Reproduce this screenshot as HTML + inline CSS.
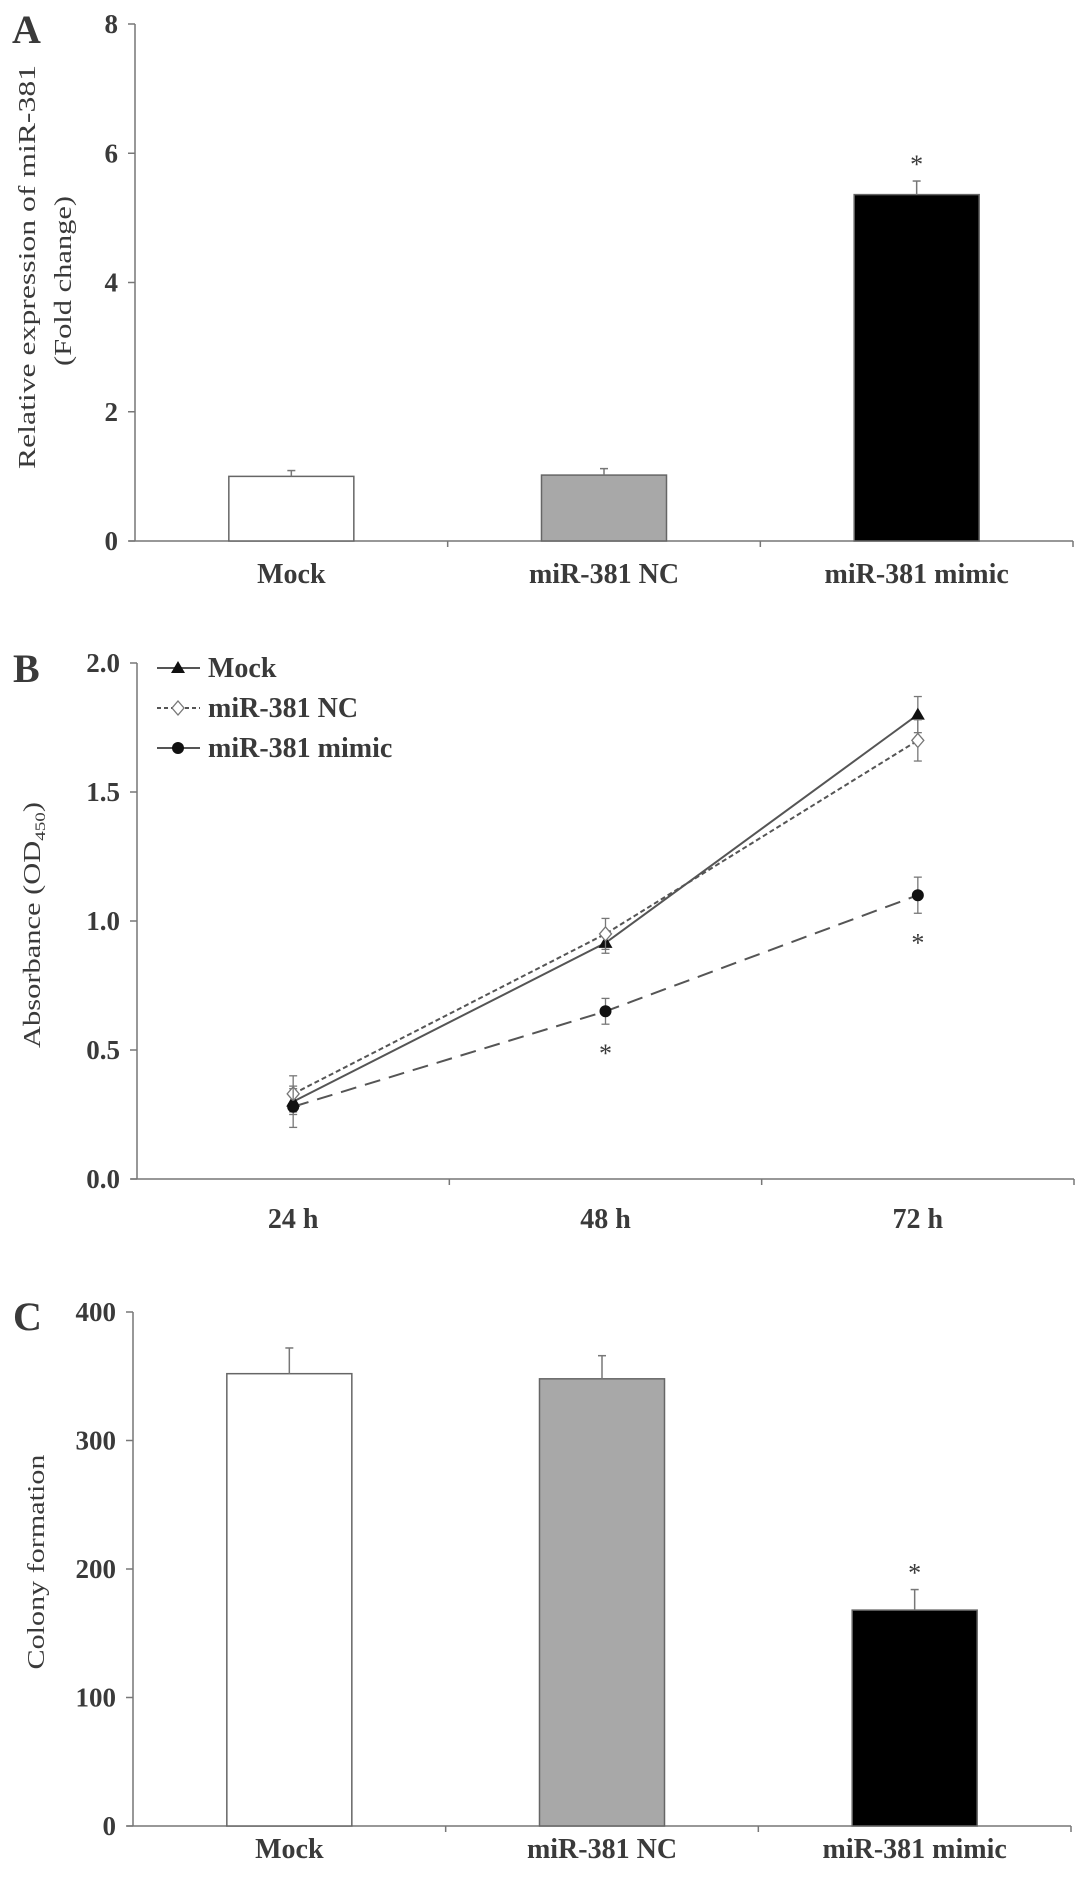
<!DOCTYPE html>
<html><head><meta charset="utf-8"><style>
body{margin:0;background:#fff}
svg text{font-family:"Liberation Serif",serif;fill:#3a3a3a}
</style></head><body>
<svg id="fig" width="1087" height="1872" viewBox="0 0 1087 1872" xmlns="http://www.w3.org/2000/svg">
<g id="pa"></g>
<g id="pb"></g>
<g id="pc"></g>
</svg>
<script>
// Panel A data
const catsA = ["Mock","miR-381 NC","miR-381 mimic"];
const valsA = [1.0, 1.02, 5.36];
const errA = [0.09, 0.1, 0.21];
const sigA = [false,false,true];
const ticksA = [0,2,4,6,8];
// Panel B data
const timesB = ["24 h","48 h","72 h"];
const mockB = [0.30, 0.915, 1.80];
const mockErrB = [0.05, 0.04, 0.07];
const ncB = [0.33, 0.95, 1.70];
const ncErrB = [0.07, 0.06, 0.08];
const mimicB = [0.28, 0.65, 1.10];
const mimicErrB = [0.08, 0.05, 0.07];
const sigB = [false,true,true];
const ticksB = ["0.0","0.5","1.0","1.5","2.0"];
// Panel C data
const catsC = ["Mock","miR-381 NC","miR-381 mimic"];
const valsC = [352, 348, 168];
const errC = [20, 18, 16];
const sigC = [false,false,true];
const ticksC = [0,100,200,300,400];

const NS="http://www.w3.org/2000/svg";
function el(parent,tag,attrs,text){const e=document.createElementNS(NS,tag);for(const k in attrs)e.setAttribute(k,attrs[k]);if(text!==undefined)e.textContent=text;parent.appendChild(e);return e;}

const fills=["#ffffff","#a8a8a8","#000000"];

function axes(g,x0,x1,y0,yTop,ticks,tickVals,ymax){
  const sy=v=>y0-(v/ymax)*(y0-yTop);
  const ya=el(g,'line',{x1:x0,y1:yTop,x2:x0,y2:y0,stroke:'#777','stroke-width':1.5});
  
  
  const xa=el(g,'line',{x1:x0-6,y1:y0,x2:x1,y2:y0,stroke:'#777','stroke-width':1.5});
  
  
  ticks.forEach((t,i)=>{
    const y=sy(tickVals[i]);
    el(g,'line',{x1:x0-7,y1:y,x2:x0,y2:y,stroke:'#777','stroke-width':1.5});
    const tx=el(g,'text',{x:x0-17,y:y+9,'text-anchor':'end','font-size':27,'font-weight':'bold'},t);
    
    
  });
  const w=(x1-x0)/3;
  for(let i=1;i<=3;i++){const x=x0+w*i;el(g,'line',{x1:x,y1:y0,x2:x,y2:y0+6,stroke:'#777','stroke-width':1.5});}
  return sy;
}

function barPanel(g,cats,vals,errs,sig,ticks,ymax,x0,x1,y0,yTop,labelY){
  const sy=axes(g,x0,x1,y0,yTop,ticks.map(String),ticks,ymax);
  const w=(x1-x0)/3;
  cats.forEach((c,i)=>{
    const cx=x0+w*(i+0.5);
    const bw=125, top=sy(vals[i]);
    const b=el(g,'rect',{x:cx-bw/2,y:top,width:bw,height:y0-top,fill:fills[i],stroke:'#666','stroke-width':1.5});
    
    
    const et=sy(vals[i]+errs[i]);
    el(g,'line',{x1:cx,y1:top,x2:cx,y2:et,stroke:'#777','stroke-width':1.5});
    el(g,'line',{x1:cx-4,y1:et,x2:cx+4,y2:et,stroke:'#777','stroke-width':1.5});
    if(sig[i]){const s=el(g,'text',{x:cx,y:et-8,'text-anchor':'middle','font-size':26},'*');
      
      }
    const t=el(g,'text',{x:cx,y:labelY,'text-anchor':'middle','font-size':28,'font-weight':'bold'},c);
    
    
  });
}

// Panel A
const ga=document.getElementById('pa');
el(ga,'text',{x:12,y:43,'font-size':40,'font-weight':'bold',fill:'#222'},'A');
barPanel(ga,catsA,valsA,errA,sigA,ticksA,8,135,1073,541,24,583);
let t1=el(ga,'text',{transform:'translate(35,267) rotate(-90)','text-anchor':'middle','font-size':24,textLength:404,lengthAdjust:'spacingAndGlyphs'},'Relative expression of miR-381');

let t2=el(ga,'text',{transform:'translate(71,281) rotate(-90)','text-anchor':'middle','font-size':24,textLength:170,lengthAdjust:'spacingAndGlyphs'},'(Fold change)');


// Panel B
const gb=document.getElementById('pb');
el(gb,'text',{x:13,y:682,'font-size':40,'font-weight':'bold',fill:'#222'},'B');
const syB=axes(gb,137,1074,1179,663,ticksB,ticksB.map(Number),2.0);
const wB=(1074-137)/3;
const sxB=i=>137+wB*(i+0.5);
let tb=el(gb,'text',{transform:'translate(40,925) rotate(-90)','text-anchor':'middle','font-size':24,textLength:246,lengthAdjust:'spacingAndGlyphs'});

el(tb,'tspan',{},'Absorbance (OD');el(tb,'tspan',{'font-size':15,dy:5},'450');el(tb,'tspan',{dy:-5},')');
timesB.forEach((t,i)=>{const e=el(gb,'text',{x:sxB(i),y:1228,'text-anchor':'middle','font-size':28,'font-weight':'bold'},t);
  });
const series=[
 {name:'Mock',vals:mockB,err:mockErrB,dash:'',marker:'tri'},
 {name:'miR-381 NC',vals:ncB,err:ncErrB,dash:'5,3',marker:'dia'},
 {name:'miR-381 mimic',vals:mimicB,err:mimicErrB,dash:'16,9',marker:'dot'}];
function marker(g,type,x,y){
  if(type==='tri') return el(g,'polygon',{points:`${x},${y-7} ${x-7},${y+5} ${x+7},${y+5}`,fill:'#111'});
  if(type==='dia') return el(g,'polygon',{points:`${x},${y-7} ${x+6},${y} ${x},${y+7} ${x-6},${y}`,fill:'#fff',stroke:'#777','stroke-width':1.3});
  return el(g,'circle',{cx:x,cy:y,r:6,fill:'#111'});
}
series.forEach((s,si)=>{
  const pts=s.vals.map((v,i)=>sxB(i)+','+syB(v)).join(' ');
  const pl=el(gb,'polyline',{points:pts,fill:'none',stroke:'#555','stroke-width':2,'stroke-dasharray':s.dash});
  
  
  s.vals.forEach((v,i)=>{
    const x=sxB(i),a=syB(v+s.err[i]),b=syB(v-s.err[i]);
    el(gb,'line',{x1:x,y1:a,x2:x,y2:b,stroke:'#777','stroke-width':1.3});
    el(gb,'line',{x1:x-4,y1:a,x2:x+4,y2:a,stroke:'#777','stroke-width':1.3});
    el(gb,'line',{x1:x-4,y1:b,x2:x+4,y2:b,stroke:'#777','stroke-width':1.3});
  });
  s.vals.forEach((v,i)=>{const m=marker(gb,s.marker,sxB(i),syB(v));
    
    });
  const ly=668+40*si;
  el(gb,'line',{x1:157,y1:ly,x2:200,y2:ly,stroke:'#555','stroke-width':2,'stroke-dasharray':si===1?'4,3':''});
  marker(gb,s.marker,178,ly);
  const lt=el(gb,'text',{x:208,y:ly+9,'font-size':28,'font-weight':'bold'},s.name);
  
  
});
mimicB.forEach((v,i)=>{if(sigB[i]){const x=sxB(i);const s=el(gb,'text',{x:x,y:syB(v-mimicErrB[i])+38,'text-anchor':'middle','font-size':26},'*');
  }});

// Panel C
const gc=document.getElementById('pc');
el(gc,'text',{x:13,y:1330,'font-size':40,'font-weight':'bold',fill:'#222'},'C');
barPanel(gc,catsC,valsC,errC,sigC,ticksC,400,133,1071,1826,1312,1858);
let tc=el(gc,'text',{transform:'translate(44,1562) rotate(-90)','text-anchor':'middle','font-size':24,textLength:215,lengthAdjust:'spacingAndGlyphs'},'Colony formation');

</script>
</body></html>
